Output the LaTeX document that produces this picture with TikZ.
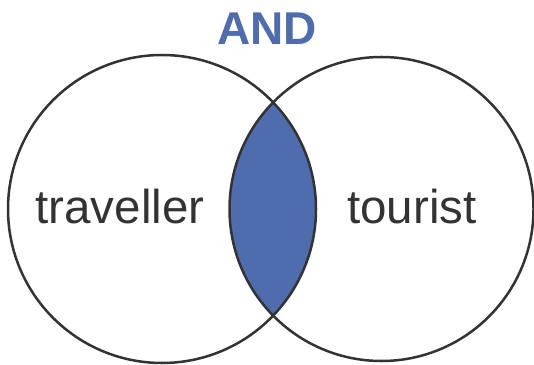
\documentclass[tikz,border=0pt]{standalone}
\usepackage{fontspec}
\setmainfont{Liberation Sans}
\definecolor{andblue}{RGB}{79,108,173}
\definecolor{setgray}{RGB}{51,51,51}
\begin{document}
\begin{tikzpicture}[x=1pt,y=1pt]
            \tikzstyle{every node}+=[inner sep=0pt]
            \useasboundingbox (0,0) rectangle (534,364);
            \coordinate (cl) at (162,155);
            \coordinate (cr) at (381.5,155);
            \begin{scope}
                \clip (cl) circle (154pt);
                \fill [andblue] (cr) circle (152pt);
            \end{scope}
            \draw [setgray, line width=2.5pt] (cl) circle (154pt);
            \draw [setgray, line width=2.5pt] (cr) circle (152pt);
            \node [anchor=base, text=setgray, font=\fontsize{47.5}{50}\selectfont] (trav) at (120,140) {traveller};
            \node [anchor=base, text=setgray, font=\fontsize{47.5}{50}\selectfont] (tour) at (412,140) {tourist};
            \node [anchor=base, text=andblue, font=\fontsize{46}{50}\selectfont\bfseries] (and) at (267,319) {AND};
        \end{tikzpicture}
\end{document}
